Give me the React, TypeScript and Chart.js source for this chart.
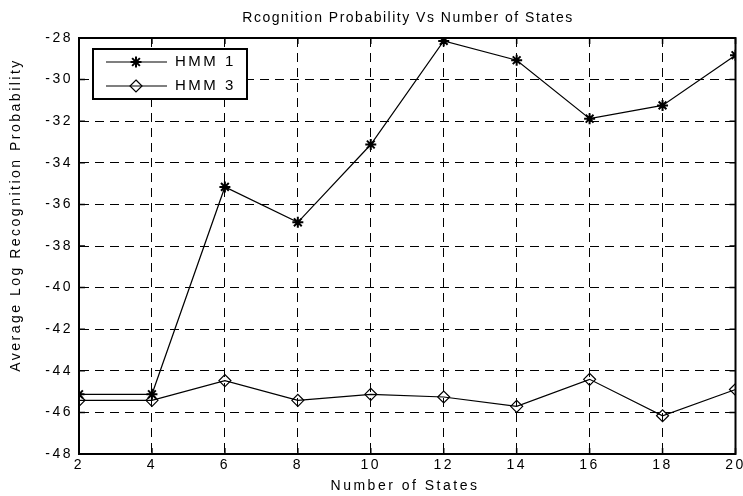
import React, { useEffect, useRef } from 'react';
import { Chart, registerables } from 'chart.js';

Chart.register(...registerables);

const states = [2, 4, 6, 8, 10, 12, 14, 16, 18, 20];
const hmm1 = [-45.13, -45.13, -35.16, -36.86, -33.12, -28.14, -29.07, -31.88, -31.24, -28.83];
const hmm3 = [-45.42, -45.42, -44.47, -45.42, -45.13, -45.26, -45.71, -44.41, -46.16, -44.9];
const seriesLabels = ['HMM 1', 'HMM 3'];
const titleText = 'Rcognition Probability Vs Number of States';
const xLabel = 'Number of States';
const yLabel = 'Average Log Recognition Probability';
const xRange = [2, 20];
const yRange = [-48, -28];
const tickStep = 2;

const FONT = 'Arial, "Liberation Sans", sans-serif';

function drawStar(ctx: CanvasRenderingContext2D, x: number, y: number, r: number) {
  const o = Math.cos(Math.PI / 4) * r;
  ctx.beginPath();
  ctx.moveTo(x - r, y); ctx.lineTo(x + r, y);
  ctx.moveTo(x, y - r); ctx.lineTo(x, y + r);
  ctx.moveTo(x - o, y - o); ctx.lineTo(x + o, y + o);
  ctx.moveTo(x - o, y + o); ctx.lineTo(x + o, y - o);
  ctx.stroke();
}

function drawDiamond(ctx: CanvasRenderingContext2D, x: number, y: number, r: number) {
  ctx.beginPath();
  ctx.moveTo(x, y - r); ctx.lineTo(x + r, y); ctx.lineTo(x, y + r); ctx.lineTo(x - r, y);
  ctx.closePath();
  ctx.stroke();
}

const decor = {
  id: 'decor',
  beforeDraw(chart: any) {
    (chart.ctx as any).letterSpacing = '2.5px';
  },
  afterDraw(chart: any) {
    const ctx: CanvasRenderingContext2D = chart.ctx;
    const a = chart.chartArea;
    const xs = chart.scales.x;
    const ys = chart.scales.y;
    ctx.save();
    ctx.setLineDash([]);
    ctx.strokeStyle = '#000';
    // tick marks
    ctx.lineWidth = 1.5;
    ctx.beginPath();
    xs.ticks.forEach((t: any) => {
      const px = xs.getPixelForValue(t.value);
      ctx.moveTo(px, a.bottom); ctx.lineTo(px, a.bottom - 6);
      ctx.moveTo(px, a.top); ctx.lineTo(px, a.top + 6);
    });
    ys.ticks.forEach((t: any) => {
      const py = ys.getPixelForValue(t.value);
      ctx.moveTo(a.left, py); ctx.lineTo(a.left + 6, py);
      ctx.moveTo(a.right, py); ctx.lineTo(a.right - 6, py);
    });
    ctx.stroke();
    // box
    ctx.lineWidth = 2;
    ctx.strokeRect(a.left, a.top, a.right - a.left, a.bottom - a.top);

    // texts
    ctx.fillStyle = '#000';
    ctx.textAlign = 'center';
    ctx.textBaseline = 'middle';
    ctx.font = `14px ${FONT}`;
    (ctx as any).letterSpacing = '1.5px';
    ctx.fillText(titleText, 408, 18);
    (ctx as any).letterSpacing = '2.5px';
    ctx.fillText(xLabel, 405, 486);
    ctx.save();
    ctx.translate(16, 215);
    ctx.rotate(-Math.PI / 2);
    ctx.fillText(yLabel, 0, 0);
    ctx.restore();

    // legend
    ctx.fillStyle = '#fff';
    ctx.fillRect(93, 49, 154, 50);
    ctx.lineWidth = 2;
    ctx.strokeStyle = '#000';
    ctx.strokeRect(93, 49, 154, 50);
    const rows = [62, 86];
    rows.forEach((ry, i) => {
      ctx.lineWidth = 1.2;
      ctx.beginPath();
      ctx.moveTo(106, ry); ctx.lineTo(167, ry);
      ctx.stroke();
      if (i === 0) { ctx.lineWidth = 2; drawStar(ctx, 136, ry, 5.5); }
      else { ctx.lineWidth = 1.2; drawDiamond(ctx, 136, ry, 6); }
      ctx.fillStyle = '#000';
      ctx.textAlign = 'left';
      ctx.font = `15px ${FONT}`;
      (ctx as any).letterSpacing = '2.5px';
      ctx.fillText(seriesLabels[i], 175, ry);
    });
    ctx.restore();
  },
};

export default function App() {
  const ref = useRef<HTMLCanvasElement | null>(null);
  useEffect(() => {
    if (!ref.current) return;
    document.body.style.margin = '0';
    const toPts = (ys: number[]) => states.map((x, i) => ({ x, y: ys[i] }));
    const chart = new Chart(ref.current, {
      type: 'line',
      data: {
        datasets: [
          {
            label: seriesLabels[0],
            data: toPts(hmm1),
            borderColor: '#000',
            borderWidth: 1.2,
            pointStyle: 'star',
            pointRadius: 5.5,
            pointBorderWidth: 2,
            pointBorderColor: '#000',
            pointBackgroundColor: 'rgba(0,0,0,0)',
            tension: 0,
          },
          {
            label: seriesLabels[1],
            data: toPts(hmm3),
            borderColor: '#000',
            borderWidth: 1.2,
            pointStyle: 'rectRot',
            pointRadius: 6,
            pointBorderWidth: 1.2,
            pointBorderColor: '#000',
            pointBackgroundColor: 'rgba(0,0,0,0)',
            tension: 0,
          },
        ],
      },
      options: {
        responsive: false,
        animation: false,
        devicePixelRatio: 1,
        layout: { padding: { top: 38, right: 5, left: 0, bottom: 0 } },
        plugins: {
          legend: { display: false },
          title: { display: false },
          tooltip: { enabled: false },
        },
        scales: {
          x: {
            type: 'linear',
            min: xRange[0],
            max: xRange[1],
            ticks: {
              stepSize: tickStep,
              autoSkip: false,
              color: '#000',
              padding: 3,
              maxRotation: 0,
              font: { family: FONT, size: 14 },
            },
            grid: { color: '#000', lineWidth: 1, drawTicks: false },
            border: { display: true, color: '#000', width: 2, dash: [9, 6] },
            afterFit: (s: any) => {
              s.height = 42;
              s.paddingLeft = 0;
              s.paddingRight = 0;
            },
          },
          y: {
            type: 'linear',
            min: yRange[0],
            max: yRange[1],
            ticks: {
              stepSize: tickStep,
              autoSkip: false,
              color: '#000',
              padding: 6,
              font: { family: FONT, size: 14 },
            },
            grid: { color: '#000', lineWidth: 1, drawTicks: false },
            border: { display: true, color: '#000', width: 2, dash: [9, 6] },
            afterFit: (s: any) => {
              s.width = 79;
              s.paddingTop = 0;
              s.paddingBottom = 0;
            },
          },
        },
      },
      plugins: [decor],
    } as any);
    return () => chart.destroy();
  }, []);
  return (
    <div style={{ position: 'absolute', left: 0, top: 0, width: 743, height: 496, background: '#fff' }}>
      <canvas ref={ref} width={743} height={496} style={{ display: 'block' }} />
    </div>
  );
}
